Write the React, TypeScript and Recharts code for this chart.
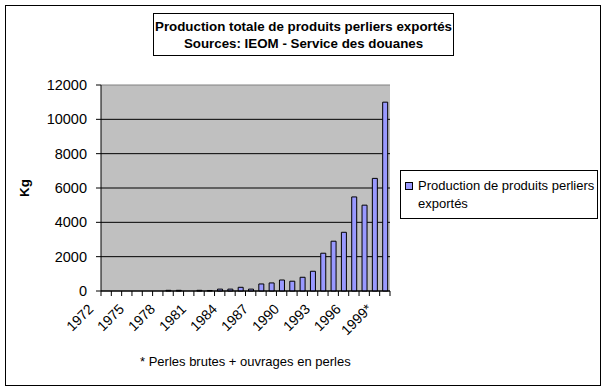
import { BarChart, Bar, XAxis, YAxis, CartesianGrid } from 'recharts'

const years = [
  '1972', '1973', '1974', '1975', '1976', '1977', '1978', '1979', '1980', '1981',
  '1982', '1983', '1984', '1985', '1986', '1987', '1988', '1989', '1990', '1991',
  '1992', '1993', '1994', '1995', '1996', '1997', '1998', '1999*',
]
const production = [
  0, 0, 0, 0, 0, 0, 40, 40, 0, 40,
  30, 110, 110, 215, 110, 410, 470, 640, 570, 800,
  1150, 2200, 2900, 3420, 5480, 5000, 6560, 11000,
]
const yTicks = [0, 2000, 4000, 6000, 8000, 10000, 12000]

const data = years.map((year, i) => ({ year, value: production[i] }))

const FONT = '"Liberation Sans", Arial, sans-serif'

function YearTick(props: any) {
  const { x, y, index, payload } = props
  const half = payload?.offset ?? 290 / 56
  const last = index === years.length - 1
  const tx = x - 12
  const ty = y + 19
  return (
    <g>
      <line x1={x - half} y1={y} x2={x - half} y2={y + 5} stroke="#000" />
      {last && <line x1={x + half} y1={y} x2={x + half} y2={y + 5} stroke="#000" />}
      {index % 3 === 0 && (
        <text
          x={tx}
          y={ty}
          textAnchor="end"
          fontSize={14}
          fontFamily={FONT}
          fill="#000"
          transform={`rotate(-45 ${tx} ${ty})`}
        >
          {payload.value}
        </text>
      )}
    </g>
  )
}

function GridLine(props: any) {
  const { x1, y1, x2, y2 } = props
  const top = y1 < 90
  return <line x1={x1} y1={y1} x2={x2} y2={y2} stroke={top ? '#808080' : '#000'} strokeWidth={1} />
}

export default function App() {
  return (
    <div style={{ position: 'absolute', left: 0, top: 0, width: 607, height: 391, background: '#fff', fontFamily: FONT }}>
      <div style={{ position: 'absolute', left: 5, top: 5, width: 596, height: 381, border: '1px solid #000', boxSizing: 'border-box' }} />

      <BarChart
        width={607}
        height={391}
        data={data}
        margin={{ top: 85, right: 217, bottom: 0, left: 0 }}
      >
        <CartesianGrid vertical={false} horizontal={GridLine} fill="#C0C0C0" />
        <XAxis
          dataKey="year"
          height={100}
          interval={0}
          tickSize={0}
          tickMargin={0}
          tickLine={false}
          axisLine={{ stroke: '#000' }}
          tick={YearTick}
        />
        <XAxis xAxisId="top" dataKey="year" orientation="top" height={0} tick={false} tickLine={false} axisLine={{ stroke: '#808080' }} />
        <YAxis
          domain={[0, 12000]}
          ticks={yTicks}
          width={101}
          tickSize={5}
          tickMargin={9}
          interval={0}
          axisLine={{ stroke: '#000' }}
          tickLine={{ stroke: '#000' }}
          tick={{ fill: '#000', fontSize: 14.5, fontFamily: FONT }}
        />
        <YAxis yAxisId="right" orientation="right" domain={[0, 12000]} width={0} tick={false} tickLine={false} axisLine={{ stroke: '#808080' }} />
        <Bar dataKey="value" fill="#9999FF" stroke="#000" strokeWidth={1} barSize={5} isAnimationActive={false} />
      </BarChart>

      <div style={{
        position: 'absolute', left: 153, top: 13, width: 301, height: 43, border: '1px solid #000', boxSizing: 'border-box',
        display: 'flex', flexDirection: 'column', justifyContent: 'center', alignItems: 'center',
        fontWeight: 'bold', fontSize: 13.33, lineHeight: '17px', color: '#000', background: '#fff',
      }}>
        <div>Production totale de produits perliers exportés</div>
        <div>Sources: IEOM - Service des douanes</div>
      </div>

      <div style={{
        position: 'absolute', left: 24, top: 188, transform: 'translate(-50%, -50%) rotate(-90deg)',
        fontWeight: 'bold', fontSize: 13.33, color: '#000', whiteSpace: 'nowrap',
      }}>
        Kg
      </div>

      <div style={{
        position: 'absolute', left: 400, top: 170, width: 198, height: 49, border: '1px solid #000', boxSizing: 'border-box',
        background: '#fff', fontSize: 13, lineHeight: '18px', color: '#000',
      }}>
        <div style={{ position: 'absolute', left: 4, top: 11, width: 8, height: 8, background: '#9999FF', border: '1px solid #000', boxSizing: 'border-box' }} />
        <div style={{ position: 'absolute', left: 17, top: 6 }}>
          Production de produits perliers<br />exportés
        </div>
      </div>

      <div style={{ position: 'absolute', left: 140, top: 354, fontSize: 13, color: '#000', whiteSpace: 'nowrap' }}>
        * Perles brutes + ouvrages en perles
      </div>
    </div>
  )
}
